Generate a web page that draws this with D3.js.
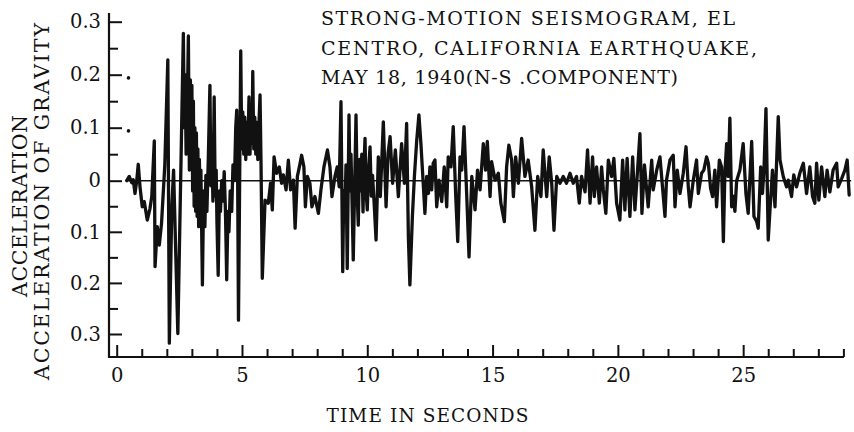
<!DOCTYPE html>
<html>
<head>
<meta charset="utf-8">
<script src="https://cdn.jsdelivr.net/npm/d3@7"></script>
<style>
  body { margin: 0; background: #fff; }
  svg { display: block; }
  text { font-family: "DejaVu Serif", serif; fill: #111; }
</style>
</head>
<body>
<div id="chart"></div>
<script>
// El Centro 1940, N-S component: [time s, acceleration g]
const accelTrace = [
  [0.40, 0], [0.50, 0.008], [0.60, -0.004], [0.66, 0.002], [0.73, -0.025], [0.80, 0], [0.86, 0.031],
  [0.93, -0.012], [1.02, -0.051], [1.10, -0.041], [1.22, -0.077], [1.33, -0.054], [1.40, -0.031],
  [1.50, 0.075], [1.53, -0.168], [1.62, -0.090], [1.70, -0.126], [1.79, -0.083], [1.92, 0.030],
  [2.04, 0.228], [2.10, -0.318], [2.20, -0.050], [2.27, 0.020], [2.44, -0.299], [2.66, 0.278],
  [2.70, 0.10], [2.73, 0.20], [2.77, 0.05], [2.82, 0.15], [2.86, 0.273], [2.90, 0.02], [2.94, 0.19],
  [2.97, 0.06], [3.00, 0.18], [3.03, -0.02], [3.06, 0.15], [3.09, -0.05], [3.12, 0.10], [3.15, -0.06],
  [3.18, 0.09], [3.21, -0.07], [3.24, 0.06], [3.27, -0.09], [3.30, 0.04], [3.33, -0.06], [3.36, 0.02],
  [3.42, -0.204], [3.47, -0.02], [3.52, -0.09], [3.56, 0.01], [3.60, -0.06], [3.66, 0.05], [3.72, 0.18],
  [3.76, -0.01], [3.80, 0.06], [3.84, -0.04], [3.89, 0.158], [3.93, -0.03], [3.97, 0.02], [4.00, -0.08],
  [4.05, -0.185], [4.10, -0.02], [4.14, -0.06], [4.19, 0.0], [4.24, -0.04], [4.29, 0.017], [4.34, -0.06],
  [4.39, -0.194], [4.44, -0.06], [4.48, -0.10], [4.53, -0.02], [4.59, -0.06], [4.64, 0.03], [4.70, 0.0],
  [4.75, 0.10], [4.79, 0.133], [4.82, 0.06], [4.86, -0.273], [4.95, 0.245], [4.99, 0.06], [5.03, 0.13],
  [5.07, 0.05], [5.11, 0.12], [5.15, 0.04], [5.19, 0.11], [5.23, 0.05], [5.28, 0.158], [5.32, 0.05],
  [5.36, 0.13], [5.40, 0.07], [5.43, 0.206], [5.47, 0.06], [5.51, 0.12], [5.55, 0.05], [5.59, 0.11],
  [5.63, 0.04], [5.67, 0.10], [5.72, 0.162], [5.76, 0.03], [5.81, -0.191], [5.92, -0.038],
  [6.05, -0.044], [6.14, -0.005], [6.21, -0.057], [6.28, 0.045], [6.38, 0.014], [6.49, 0.026],
  [6.58, -0.005], [6.65, 0.011], [6.76, -0.018], [6.85, 0.039], [6.94, -0.018], [7.05, 0.001],
  [7.12, -0.093], [7.21, 0.008], [7.29, 0.026], [7.38, 0.048], [7.47, 0.026], [7.53, -0.051],
  [7.61, 0.008], [7.71, -0.005], [7.79, -0.051], [7.91, -0.031], [8.05, -0.064], [8.15, -0.018],
  [8.27, 0.026], [8.41, 0.058], [8.51, 0.026], [8.59, -0.031], [8.71, 0.008], [8.80, 0.026],
  [8.88, -0.012], [8.95, 0.149], [9.02, -0.178], [9.06, -0.02], [9.11, -0.06], [9.15, 0.03],
  [9.20, -0.172], [9.27, 0.124], [9.31, -0.02], [9.35, 0.05], [9.40, -0.06], [9.44, -0.155],
  [9.50, 0.0], [9.55, 0.124], [9.60, -0.03], [9.64, -0.087], [9.69, 0.04], [9.74, -0.02], [9.78, 0.05],
  [9.83, -0.061], [9.87, 0.03], [9.91, 0.080], [9.95, -0.02], [10.00, -0.057], [10.05, 0.02],
  [10.11, 0.064], [10.16, -0.03], [10.21, 0.01], [10.28, -0.05], [10.35, -0.116], [10.44, 0.045],
  [10.52, -0.031], [10.64, 0.111], [10.75, -0.051], [10.83, 0.052], [10.91, 0.083], [11.01, -0.005],
  [11.12, 0.058], [11.24, -0.031], [11.37, 0.070], [11.48, -0.005], [11.57, 0.108], [11.64, -0.110],
  [11.70, -0.204], [11.80, -0.070], [11.88, 0.008], [11.97, 0.074], [12.06, 0.124], [12.14, 0.070],
  [12.24, -0.012], [12.30, -0.064], [12.37, 0.008], [12.44, -0.025], [12.50, 0.026], [12.57, -0.018],
  [12.63, 0.033], [12.70, 0.039], [12.77, -0.051], [12.86, 0.001], [12.97, -0.041], [13.07, 0.026],
  [13.17, -0.051], [13.23, 0.045], [13.34, 0.026], [13.43, 0.102], [13.53, -0.031], [13.61, -0.119],
  [13.70, 0.045], [13.77, 0.020], [13.86, 0.102], [13.97, -0.031], [14.06, -0.149], [14.17, 0.008],
  [14.30, -0.057], [14.40, 0.020], [14.50, -0.018], [14.63, 0.070], [14.72, 0.020], [14.79, 0.074],
  [14.90, -0.031], [14.96, 0.036], [15.10, 0.001], [15.23, 0.014], [15.33, -0.044], [15.47, -0.080],
  [15.56, 0.026], [15.65, 0.067], [15.76, 0.039], [15.83, -0.031], [15.92, 0.045], [16.03, -0.005],
  [16.16, 0.080], [16.29, 0.008], [16.42, 0.039], [16.56, -0.012], [16.69, -0.097], [16.80, 0.008],
  [16.93, -0.031], [17.02, 0.058], [17.16, -0.031], [17.26, 0.045], [17.36, -0.005], [17.45, -0.097],
  [17.56, 0.008], [17.69, -0.005], [17.82, 0.008], [17.95, -0.005], [18.09, 0.014], [18.22, -0.005],
  [18.35, 0.008], [18.46, -0.044], [18.55, 0.008], [18.69, -0.022], [18.79, 0.058], [18.89, -0.044],
  [18.99, 0.045], [19.06, -0.031], [19.15, 0.026], [19.26, -0.044], [19.35, 0.026], [19.42, -0.018],
  [19.52, -0.064], [19.62, 0.039], [19.75, 0.008], [19.84, 0.042], [19.95, -0.044], [20.08, -0.077],
  [20.19, 0.039], [20.28, -0.057], [20.37, 0.042], [20.48, -0.070], [20.59, 0.045], [20.68, -0.057],
  [20.77, 0.008], [20.88, 0.089], [20.96, -0.064], [21.06, 0.030], [21.21, -0.051], [21.35, 0.039],
  [21.41, -0.018], [21.55, 0.020], [21.68, 0.045], [21.74, 0.011], [21.88, -0.070], [21.94, 0.001],
  [22.08, 0.039], [22.21, 0.048], [22.28, -0.051], [22.37, 0.020], [22.48, -0.025], [22.61, 0.014],
  [22.72, 0.064], [22.81, -0.012], [22.88, -0.051], [23.01, 0.001], [23.14, 0.039], [23.21, -0.025],
  [23.34, 0.014], [23.43, 0.020], [23.54, 0.045], [23.61, 0.033], [23.70, -0.015], [23.78, -0.031],
  [23.87, 0.020], [23.94, -0.051], [24.05, 0.039], [24.14, 0.026], [24.21, -0.119], [24.27, 0.014],
  [24.34, 0.070], [24.40, 0.008], [24.47, 0.118], [24.54, -0.051], [24.60, -0.030], [24.67, -0.060],
  [24.74, 0], [24.87, 0.020], [25.00, 0.070], [25.11, -0.025], [25.20, -0.064], [25.34, 0.074],
  [25.43, -0.070], [25.54, -0.080], [25.60, -0.093], [25.70, 0.026], [25.77, -0.025], [25.83, 0.020],
  [25.91, 0.136], [26.00, -0.116], [26.07, -0.057], [26.17, 0.020], [26.27, -0.051], [26.40, 0.121],
  [26.47, 0.039], [26.60, 0.008], [26.73, -0.012], [26.80, 0.001], [26.93, -0.031], [27.02, 0.011],
  [27.13, -0.012], [27.26, 0.014], [27.40, 0.033], [27.53, -0.025], [27.66, 0.026], [27.77, -0.031],
  [27.86, -0.044], [27.93, 0.033], [28.02, -0.038], [28.13, 0.026], [28.26, -0.031], [28.35, 0.020],
  [28.46, -0.022], [28.59, 0.020], [28.73, 0.033], [28.79, -0.012], [28.93, 0.004], [29.06, 0.020],
  [29.15, 0.039], [29.23, -0.028]
];
// two stray printer specks beside the 0.2 and 0.1 ticks
const speckT = [0.47, 0.47];
const speckA = [0.194, 0.094];

const yMajorTicks = [-0.3, -0.2, -0.1, 0, 0.1, 0.2, 0.3];
const yMinorTicks = [-0.25, -0.15, -0.05, 0.05, 0.15, 0.25];
const xMajorTicks = [0, 5, 10, 15, 20, 25];
const xMinorTicks = [1, 2, 3, 4, 6, 7, 8, 9, 11, 12, 13, 14, 16, 17, 18, 19, 21, 22, 23, 24, 26, 27, 28, 29];

const titleLines = ["STRONG-MOTION SEISMOGRAM, EL", "CENTRO, CALIFORNIA EARTHQUAKE,", "MAY 18, 1940(N-S .COMPONENT)"];
const yTitleLines = ["ACCELERATION", "ACCELERATION  OF  GRAVITY"];
const xTitle = "TIME  IN  SECONDS";

const width = 854, height = 432;
const axisX = 109, axisY = 357;
const ink = "#111";

const svg = d3.select("#chart").append("svg")
  .attr("width", width)
  .attr("height", height);

const x = d3.scaleLinear().domain([0, 29]).range([116.7, 843.4]);
// the printed scale is a little taller above zero than below it
const y = d3.scaleLinear().domain([-0.3, 0, 0.3]).range([334, 180.7, 21.7]);

// axis lines
svg.append("line")
  .attr("x1", axisX).attr("x2", axisX)
  .attr("y1", 13).attr("y2", axisY + 1)
  .attr("stroke", ink).attr("stroke-width", 2.2);
svg.append("line")
  .attr("x1", axisX - 1).attr("x2", 844)
  .attr("y1", axisY).attr("y2", axisY)
  .attr("stroke", ink).attr("stroke-width", 2.2);

function styleAxis(g) {
  g.select(".domain").remove();
  g.selectAll(".tick line").attr("stroke", ink).attr("stroke-width", 2);
  g.selectAll(".tick text")
    .attr("fill", ink)
    .attr("font-family", "DejaVu Serif, serif")
    .attr("font-size", 19.5);
  g.attr("font-family", null).attr("font-size", null);
}

svg.append("g")
  .attr("transform", `translate(${axisX},0)`)
  .call(d3.axisLeft(y).tickValues(yMajorTicks).tickSizeInner(-13).tickSizeOuter(0).tickPadding(8)
    .tickFormat(d => d === 0 ? "0" : Math.abs(d).toFixed(1)))
  .call(styleAxis);

svg.append("g")
  .attr("transform", `translate(${axisX},0)`)
  .call(d3.axisLeft(y).tickValues(yMinorTicks).tickSizeInner(-9).tickSizeOuter(0).tickFormat(""))
  .call(styleAxis);

svg.append("g")
  .attr("transform", `translate(0,${axisY})`)
  .call(d3.axisBottom(x).tickValues(xMajorTicks).tickSizeInner(-12).tickSizeOuter(0).tickPadding(11)
    .tickFormat(d3.format("d")))
  .call(styleAxis);

svg.append("g")
  .attr("transform", `translate(0,${axisY})`)
  .call(d3.axisBottom(x).tickValues(xMinorTicks).tickSizeInner(-8).tickSizeOuter(0).tickFormat(""))
  .call(styleAxis);

// zero line under the trace
const tFirst = accelTrace[0][0], tLast = accelTrace[accelTrace.length - 1][0];
svg.append("line")
  .attr("x1", x(tFirst)).attr("x2", x(tLast) + 2)
  .attr("y1", y(0)).attr("y2", y(0))
  .attr("stroke", ink).attr("stroke-width", 1.4);

const line = d3.line().x(d => x(d[0])).y(d => y(d[1]));

svg.append("path")
  .datum(accelTrace)
  .attr("d", line)
  .attr("fill", "none")
  .attr("stroke", ink)
  .attr("stroke-width", 3.3)
  .attr("stroke-linejoin", "round")
  .attr("stroke-linecap", "round");

svg.selectAll("circle.speck")
  .data(speckT)
  .join("circle")
  .attr("class", "speck")
  .attr("cx", d => x(d))
  .attr("cy", (d, i) => y(speckA[i]))
  .attr("r", 1.8)
  .attr("fill", ink);

// heading
svg.selectAll("text.head")
  .data(titleLines)
  .join("text")
  .attr("class", "head")
  .attr("x", 321)
  .attr("y", (d, i) => [25, 55, 83.5][i])
  .attr("font-size", 19)
  .attr("textLength", (d, i) => [414, 436, 357][i])
  .attr("lengthAdjust", "spacing")
  .text(d => d);

// y title, two rotated lines
svg.selectAll("text.ytitle")
  .data(yTitleLines)
  .join("text")
  .attr("class", "ytitle")
  .attr("transform", (d, i) => `translate(${[27, 49][i]},${[206, 201.5][i]}) rotate(-90)`)
  .attr("text-anchor", "middle")
  .attr("font-size", 20.5)
  .attr("textLength", (d, i) => [182, 357][i])
  .attr("lengthAdjust", "spacing")
  .text(d => d);

svg.append("text")
  .attr("x", 427.5)
  .attr("y", 422)
  .attr("text-anchor", "middle")
  .attr("font-size", 18.5)
  .attr("textLength", 202)
  .attr("lengthAdjust", "spacing")
  .text(xTitle);
</script>
</body>
</html>
